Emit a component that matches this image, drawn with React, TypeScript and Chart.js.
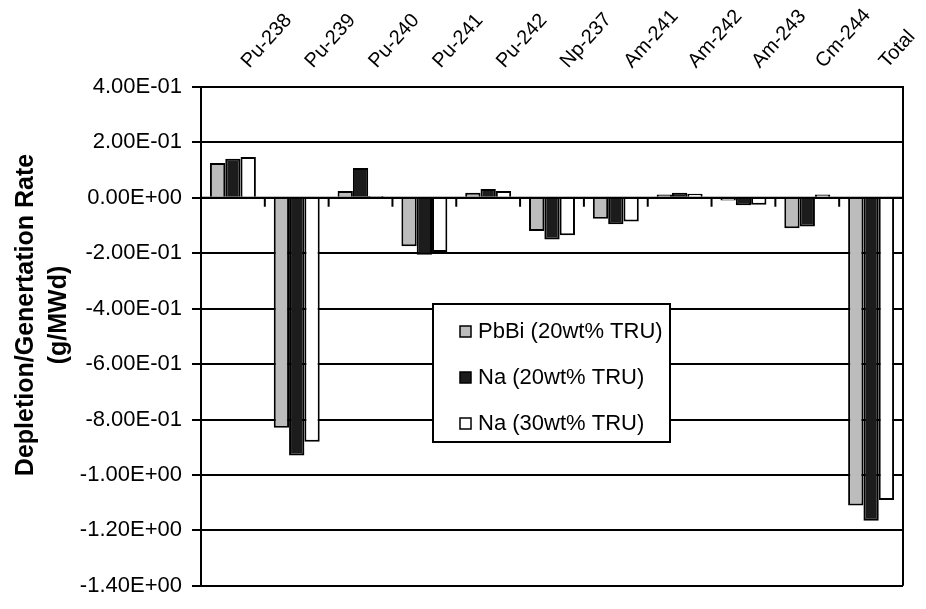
import React, { useEffect, useRef } from 'react';
import { Chart, registerables } from 'chart.js';

Chart.register(...registerables);

const categories = ['Pu-238', 'Pu-239', 'Pu-240', 'Pu-241', 'Pu-242', 'Np-237', 'Am-241', 'Am-242', 'Am-243', 'Cm-244', 'Total'];
const pbbi20 = [0.126, -0.83, 0.025, -0.175, 0.018, -0.12, -0.075, 0.012, -0.01, -0.11, -1.11];
const na20 = [0.141, -0.93, 0.108, -0.205, 0.032, -0.15, -0.095, 0.018, -0.027, -0.103, -1.165];
const na30 = [0.147, -0.88, 0.007, -0.195, 0.025, -0.135, -0.085, 0.015, -0.025, 0.012, -1.09];
const seriesLabels = ['PbBi (20wt% TRU)', 'Na (20wt% TRU)', 'Na (30wt% TRU)'];
const seriesColors = ['#bcbcbc', '#1c1c1c', '#ffffff'];
const yTitle = ['Depletion/Genertation Rate', '(g/MWd)'];
const yMin = -1.4;
const yMax = 0.4;
const yStep = 0.2;

const FONT = '"Liberation Sans", Arial, sans-serif';

function fmtExp(v: number): string {
  const s = v.toExponential(2);
  const [m, e] = s.split('e');
  const n = parseInt(e, 10);
  const sign = n < 0 ? '-' : '+';
  return m + 'E' + sign + String(Math.abs(n)).padStart(2, '0');
}

const framePlugin = {
  id: 'frame',
  afterDatasetsDraw(chart: any) {
    const { ctx, chartArea: a, scales } = chart;
    const x = scales.x;
    const y = scales.y;
    const y0 = y.getPixelForValue(0);
    ctx.save();
    ctx.strokeStyle = '#000';
    ctx.lineWidth = 2;
    ctx.beginPath();
    ctx.moveTo(a.left, y0);
    ctx.lineTo(a.right, y0);
    for (let i = 1; i < categories.length; i++) {
      const bx = (x.getPixelForValue(i - 1) + x.getPixelForValue(i)) / 2;
      ctx.moveTo(bx, y0);
      ctx.lineTo(bx, y0 + 9);
    }
    ctx.moveTo(a.right, a.top);
    ctx.lineTo(a.right, a.bottom);
    ctx.stroke();
    ctx.restore();
  },
  afterDraw(chart: any) {
    const { ctx, chartArea: a } = chart;
    ctx.save();
    ctx.fillStyle = '#000';
    ctx.font = 'bold 25px ' + FONT;
    ctx.textAlign = 'center';
    ctx.textBaseline = 'middle';
    const cy = 315;
    [26, 59].forEach((cx, i) => {
      ctx.save();
      ctx.translate(cx, cy);
      ctx.rotate(-Math.PI / 2);
      ctx.fillText(yTitle[i], 0, 0);
      ctx.restore();
    });
    const lx = a.left + 232;
    const ly = a.top + 217;
    const lw = 237;
    const lh = 138;
    ctx.fillStyle = '#fff';
    ctx.fillRect(lx, ly, lw, lh);
    ctx.strokeStyle = '#000';
    ctx.lineWidth = 2;
    ctx.strokeRect(lx, ly, lw, lh);
    ctx.font = '22px ' + FONT;
    ctx.textAlign = 'left';
    chart.data.datasets.forEach((ds: any, i: number) => {
      const ry = ly + 28 + i * 46;
      ctx.fillStyle = ds.backgroundColor;
      ctx.fillRect(lx + 27, ry - 6, 11, 11);
      ctx.lineWidth = 1.5;
      ctx.strokeStyle = '#000';
      ctx.strokeRect(lx + 27, ry - 6, 11, 11);
      ctx.fillStyle = '#000';
      ctx.fillText(ds.label, lx + 45, ry);
    });
    ctx.restore();
  },
};

export default function App() {
  const ref = useRef<HTMLCanvasElement | null>(null);
  useEffect(() => {
    if (!ref.current) return;
    const chart = new Chart(ref.current, {
      type: 'bar',
      data: {
        labels: categories,
        datasets: [pbbi20, na20, na30].map((d, i) => ({
          label: seriesLabels[i],
          data: d,
          backgroundColor: seriesColors[i],
          borderColor: '#000',
          borderWidth: 2,
          categoryPercentage: 0.72,
          barPercentage: 1,
        })),
      },
      options: {
        animation: false,
        responsive: false,
        layout: { padding: { left: 0, top: 0, right: 23, bottom: 19 } },
        plugins: { legend: { display: false }, tooltip: { enabled: false } },
        scales: {
          x: {
            position: 'top',
            grid: { display: false, drawTicks: false },
            border: { display: true, color: '#000', width: 2 },
            ticks: {
              color: '#000',
              font: { family: FONT, size: 20 },
              minRotation: 48,
              maxRotation: 48,
              padding: 14,
              labelOffset: 30,
              autoSkip: false,
            },
            afterFit: (s: any) => {
              s.height = 87;
            },
          },
          y: {
            min: yMin,
            max: yMax,
            grid: { color: '#000', lineWidth: 2, tickLength: 9, drawTicks: true },
            border: { display: true, color: '#000', width: 2 },
            ticks: {
              stepSize: yStep,
              color: '#000',
              font: { family: FONT, size: 22 },
              padding: 10,
              callback: (v: any) => fmtExp(Number(v)),
            },
            afterFit: (s: any) => {
              s.width = 201;
            },
          },
        },
      },
      plugins: [framePlugin],
    });
    return () => chart.destroy();
  }, []);
  return (
    <div style={{ position: 'absolute', left: 0, top: 0, width: 926, height: 609, background: '#fff' }}>
      <canvas ref={ref} width={926} height={609} style={{ display: 'block' }} />
    </div>
  );
}
